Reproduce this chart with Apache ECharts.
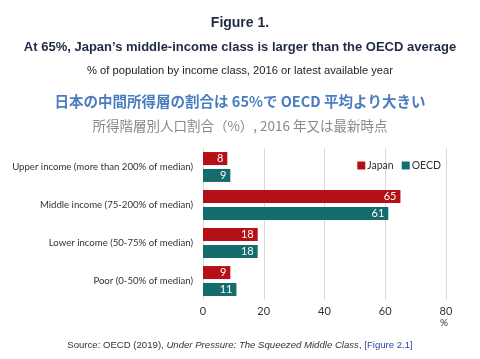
<!DOCTYPE html>
<html><head><meta charset="utf-8">
<script src="https://cdn.jsdelivr.net/npm/echarts@6/dist/echarts.min.js"></script>
<style>html,body{margin:0;padding:0;background:#fff}#c{width:480px;height:359px}</style>
</head><body><div id="c"></div>
<script>
const categories = ["Upper income (more than 200% of median)", "Middle income (75-200% of median)", "Lower income (50-75% of median)", "Poor (0-50% of median)"];
const japan = [8, 65, 18, 9];
const oecd = [9, 61, 18, 11];
const xTicks = [0, 20, 40, 60, 80];

const chart = echarts.init(document.getElementById('c'), null, {renderer: 'canvas'});
const sans = '"Liberation Sans", Arial, sans-serif';
const cjk = '"Noto Sans CJK JP", "Noto Sans CJK SC", sans-serif';
const body = 'Lato, "Open Sans", sans-serif';
const lab = {show: true, position: 'insideRight', color: '#fff', fontSize: 11, fontFamily: body, distance: 4};
chart.setOption({
  animation: false,
  title: [
    {text: 'Figure 1.', left: 'center', top: 11, textStyle: {fontFamily: sans, fontSize: 14, fontWeight: 'bold', color: '#1f2a44'}},
    {text: 'At 65%, Japan\u2019s middle-income class is larger than the OECD average', left: 'center', top: 36, textStyle: {fontFamily: sans, fontSize: 13, fontWeight: 'bold', color: '#1f2a44'}},
    {text: '% of population by income class, 2016 or latest available year', left: 'center', top: 60, textStyle: {fontFamily: sans, fontSize: 11.2, fontWeight: 'normal', color: '#222'}},
    {text: '日本の中間所得層の割合は 65%で OECD 平均より大きい', left: 'center', top: 89, textStyle: {fontFamily: cjk, fontSize: 14.5, fontWeight: 'bold', color: '#4a7cc0'}},
    {text: '所得階層別人口割合（%）, 2016 年又は最新時点', left: 'center', top: 114, textStyle: {fontFamily: cjk, fontSize: 13.5, fontWeight: 'normal', color: '#8a8a8a'}},
    {text: '{a|Source: OECD (2019), }{b|Under Pressure: The Squeezed Middle Class}{a|, }{c|[Figure 2.1]}', left: 'center', top: 335,
     textStyle: {fontWeight: 'normal', rich: {
       a: {fontFamily: sans, fontSize: 9.6, fontWeight: 'normal', color: '#333'},
       b: {fontFamily: sans, fontSize: 9.6, fontWeight: 'normal', color: '#333', fontStyle: 'italic'},
       c: {fontFamily: sans, fontSize: 9.6, fontWeight: 'normal', color: '#3344aa', textDecoration: 'underline'}
     }}}
  ],
  legend: {
    data: ['Japan', 'OECD'], right: 34, top: 155, itemWidth: 8, itemHeight: 8, itemGap: 8, icon: 'rect',
    textStyle: {fontFamily: body, fontSize: 10.5, color: '#333', padding: [0, 0, 0, -3]}
  },
  grid: {left: 203, right: 34, top: 148, bottom: 59, containLabel: false, outerBoundsMode: 'none'},
  xAxis: {
    type: 'value', min: 0, max: 80, interval: 20,
    axisLine: {show: false}, axisTick: {show: false},
    splitLine: {show: true, lineStyle: {color: '#d9d9d9', width: 1}},
    axisLabel: {color: '#333', fontSize: 11, fontFamily: body, margin: 6,
      formatter: v => xTicks.includes(v) ? String(v) : ''}
  },
  yAxis: {
    type: 'category', data: categories, inverse: true,
    axisLine: {show: false}, axisTick: {show: false},
    axisLabel: {color: '#333', fontSize: 9.6, fontFamily: body, margin: 10}
  },
  graphic: [{type: 'text', left: 440, top: 318, style: {text: '%', fontSize: 10, fill: '#333', fontFamily: body}}],
  series: [
    {name: 'Japan', type: 'bar', data: japan, barWidth: 13, barGap: '30%', itemStyle: {color: '#b50f18'}, label: lab},
    {name: 'OECD', type: 'bar', data: oecd, barWidth: 13, barGap: '30%', itemStyle: {color: '#146c6c'}, label: lab}
  ]
});
</script></body></html>
